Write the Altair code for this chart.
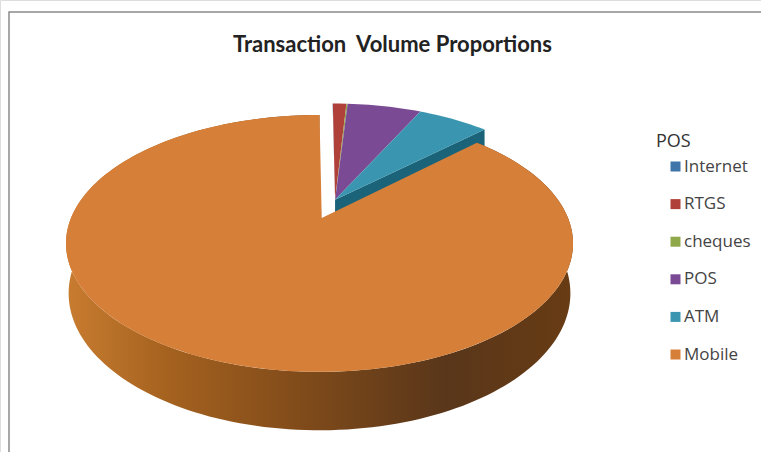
import math
import altair as alt
import pandas as pd

# Share of transaction volume per channel, in percent
channels = ["Internet", "RTGS", "cheques", "POS", "ATM", "Mobile"]
shares = [0.02, 1.08, 0.1, 5.9, 5.7, 87.2]
colors = ["#3f75a8", "#b0403a", "#8fa84a", "#7b4a94", "#3a96b0", "#d67f38"]


def project(x, y, lift=0.0):
    """Perspective view of a point on the unit disc (y points away from the viewer)."""
    w = 1 + 0.198 * y
    return 319.5 + 248.5 * x / w, 218 + (lift - 123.4 * y) / w


def wedge(start, end, ox=0.0, oy=0.0, radius=1.0, apex=None):
    steps = max(2, int((end - start) / 1.5))
    first = project(ox, oy) if apex is None else project(*apex)
    pts = [first]
    for i in range(steps + 1):
        t = math.radians(start + (end - start) * i / steps)
        pts.append(project(ox + radius * math.sin(t), oy + radius * math.cos(t)))
    pts.append(first)
    return pts


def frame_of(pts, **cols):
    return pd.DataFrame(
        [{"px": p[0], "py": p[1], "seq": i, **cols} for i, p in enumerate(pts)]
    )


x_enc = alt.X("px:Q", axis=None, scale=alt.Scale(domain=[0, 761]))
y_enc = alt.Y("py:Q", axis=None, scale=alt.Scale(domain=[452, 0]))
HEIGHT = 48.5
SMALL_RADIUS = 0.985

# Angular extents run clockwise from twelve o'clock
angles = []
acc = 0.0
for s in shares:
    angles.append((acc, acc + s * 3.6))
    acc += s * 3.6

# The small slices are pulled out together along their shared mid direction
pull_dir = math.radians(angles[4][1] / 2)
ox, oy = 0.165 * math.sin(pull_dir), 0.165 * math.cos(pull_dir)

# Cut face of the ATM slice, seen in the gap above the Mobile slice
atm_end = math.radians(angles[4][1])
tip = (ox + SMALL_RADIUS * math.sin(atm_end), oy + SMALL_RADIUS * math.cos(atm_end))
cut_face = [project(ox, oy), project(*tip), project(*tip, HEIGHT), project(ox, oy, HEIGHT)]
cut_face.append(cut_face[0])
cut_layer = alt.Chart(frame_of(cut_face)).mark_line(
    fill="#1a6378", strokeWidth=0
).encode(x=x_enc, y=y_enc, order="seq:Q")

# Top faces of the small slices, which also carry the legend
tops = []
for name, (a, b) in zip(channels, angles):
    if name == "Mobile":
        tops.append(frame_of(wedge(a, b, apex=(0.009, 0.0)), channel=name))
    else:
        tops.append(frame_of(wedge(a, b, ox, oy, SMALL_RADIUS), channel=name))
small_tops = pd.concat(tops[:5])
mobile_top = tops[5]

fill_enc = alt.Fill(
    "channel:N",
    sort=channels,
    scale=alt.Scale(domain=channels, range=colors),
    legend=alt.Legend(
        title="POS",
        orient="none",
        legendX=656,
        legendY=133,
        symbolType="square",
        symbolSize=100,
        symbolStrokeWidth=0,
        symbolOffset=11,
        titleFont="Open Sans",
        titleFontSize=18,
        titleFontWeight="normal",
        titleColor="#333333",
        titlePadding=7,
        labelFont="Open Sans",
        labelFontSize=17,
        labelColor="#444444",
        labelOffset=0,
        rowPadding=19.6,
        padding=0,
        offset=0,
    ),
)
small_layer = alt.Chart(small_tops).mark_line(strokeWidth=0).encode(
    x=x_enc, y=y_enc, order="seq:Q", fill=fill_enc
)

# Outer wall of the Mobile slice, shaded from left to right
a, b = angles[5]
ts = [math.radians(a + (b - a) * i / 200) for i in range(201)]
wall = [project(math.sin(t), math.cos(t)) for t in ts]
wall += [project(0.99 * math.sin(t), 0.99 * math.cos(t), HEIGHT) for t in reversed(ts)]
wall.append(wall[0])
wall_layer = alt.Chart(frame_of(wall)).mark_line(
    strokeWidth=0,
    fill=alt.Gradient(
        gradient="linear",
        x1=0, x2=1, y1=0, y2=0,
        stops=[
            alt.GradientStop(offset=0, color="#c87c30"),
            alt.GradientStop(offset=0.2, color="#a5621f"),
            alt.GradientStop(offset=0.45, color="#824c1a"),
            alt.GradientStop(offset=0.75, color="#59361a"),
            alt.GradientStop(offset=1, color="#683c14"),
        ],
    ),
).encode(x=x_enc, y=y_enc, order="seq:Q")

mobile_layer = alt.Chart(mobile_top).mark_line(
    strokeWidth=0, fill=colors[5]
).encode(x=x_enc, y=y_enc, order="seq:Q")

# Outer chart frame
border = alt.Chart(pd.DataFrame({"k": [0]})).mark_rect(
    fill="white", stroke="#8a8a8a", strokeWidth=1.5
).encode(
    x=alt.value(9), x2=alt.value(800), y=alt.value(12), y2=alt.value(500)
)

chart = alt.layer(border, cut_layer, small_layer, wall_layer, mobile_layer).properties(
    width=761,
    height=452,
    padding=0,
    autosize=alt.AutoSizeParams(type="none"),
    title=alt.TitleParams(
        text="Transaction\u00a0 Volume Proportions",
        font="Lato",
        fontSize=22,
        fontWeight="bold",
        color="#222222",
        anchor="start",
        frame="group",
        dx=233,
        dy=61,
    ),
).configure_view(stroke=None).configure(background="white")

chart.save("out.html", embed_options={"renderer": "svg", "actions": False})
